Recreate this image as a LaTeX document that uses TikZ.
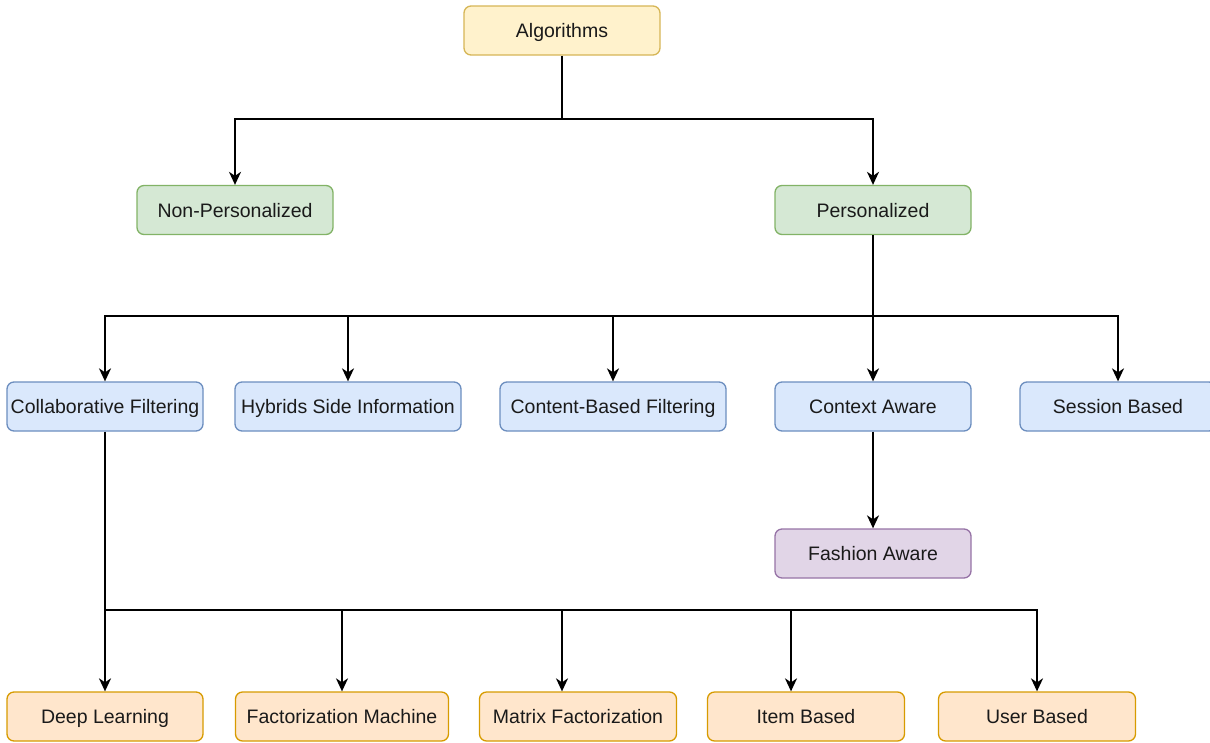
\documentclass[tikz,border=0pt]{standalone}
\usepackage{fontspec}
\setmainfont{Liberation Sans}
\usetikzlibrary{arrows.meta}
\definecolor{yfill}{HTML}{FFF2CC}\definecolor{ydraw}{HTML}{D6B656}
\definecolor{gfill}{HTML}{D5E8D4}\definecolor{gdraw}{HTML}{82B366}
\definecolor{bfill}{HTML}{DAE8FC}\definecolor{bdraw}{HTML}{6C8EBF}
\definecolor{pfill}{HTML}{E1D5E7}\definecolor{pdraw}{HTML}{9673A6}
\definecolor{ofill}{HTML}{FFE6CC}\definecolor{odraw}{HTML}{D79B00}
\definecolor{txt}{HTML}{1A1A1A}
\tikzset{
  box/.style={draw, rounded corners=7pt, line width=1.3pt, minimum height=49pt,
    inner sep=0pt, text height=16pt, text depth=2pt, text=txt,
    font=\fontsize{19.5}{22}\selectfont},
  ybox/.style={box, fill=yfill, draw=ydraw},
  gbox/.style={box, fill=gfill, draw=gdraw},
  bbox/.style={box, fill=bfill, draw=bdraw},
  pbox/.style={box, fill=pfill, draw=pdraw},
  obox/.style={box, fill=ofill, draw=odraw},
  link/.style={line width=1.8pt, black},
  arr/.style={link, -{Stealth[length=13pt, width=12pt, inset=4pt]}}
}
\begin{document}
\begin{tikzpicture}[x=1pt, y=-1pt]
\useasboundingbox (0,0) rectangle (1210,742);
\clip (0,0) rectangle (1210,742);
% nodes
\node[ybox, minimum width=196pt] (alg) at (562,30.5) {Algorithms};
\node[gbox, minimum width=196pt] (nonp) at (235,210) {Non-Personalized};
\node[gbox, minimum width=196pt] (pers) at (873,210) {Personalized};
\node[bbox, minimum width=196pt] (cf) at (105,406.5) {Collaborative Filtering};
\node[bbox, minimum width=226pt] (hyb) at (348,406.5) {Hybrids Side Information};
\node[bbox, minimum width=226pt] (cbf) at (613,406.5) {Content-Based Filtering};
\node[bbox, minimum width=196pt] (ctx) at (873,406.5) {Context Aware};
\node[bbox, minimum width=196pt] (sess) at (1118,406.5) {Session Based};
\node[pbox, minimum width=196pt] (fash) at (873,553.5) {Fashion Aware};
\node[obox, minimum width=196pt] (dl) at (105,716.5) {Deep Learning};
\node[obox, minimum width=213pt] (fm) at (342,716.5) {Factorization Machine};
\node[obox, minimum width=197pt] (mf) at (578,716.5) {Matrix Factorization};
\node[obox, minimum width=197pt] (ib) at (806,716.5) {Item Based};
\node[obox, minimum width=197pt] (ub) at (1037,716.5) {User Based};
% junctions
\coordinate (j1) at (562,119);
\coordinate (j2) at (873,316);
\coordinate (j3) at (105,610);
% connectors
\draw[link] (alg) -- (j1);
\draw[arr] (j1) -| (nonp);
\draw[arr] (j1) -| (pers);
\draw[arr] (pers) -- (ctx);
\draw[arr] (j2) -| (cf);
\draw[arr] (j2) -| (hyb);
\draw[arr] (j2) -| (cbf);
\draw[arr] (j2) -| (sess);
\draw[arr] (ctx) -- (fash);
\draw[arr] (cf) -- (dl);
\draw[arr] (j3) -| (fm);
\draw[arr] (j3) -| ([xshift=-16pt]mf.north);
\draw[arr] (j3) -| ([xshift=-15pt]ib.north);
\draw[arr] (j3) -| (ub);
\end{tikzpicture}
\end{document}
